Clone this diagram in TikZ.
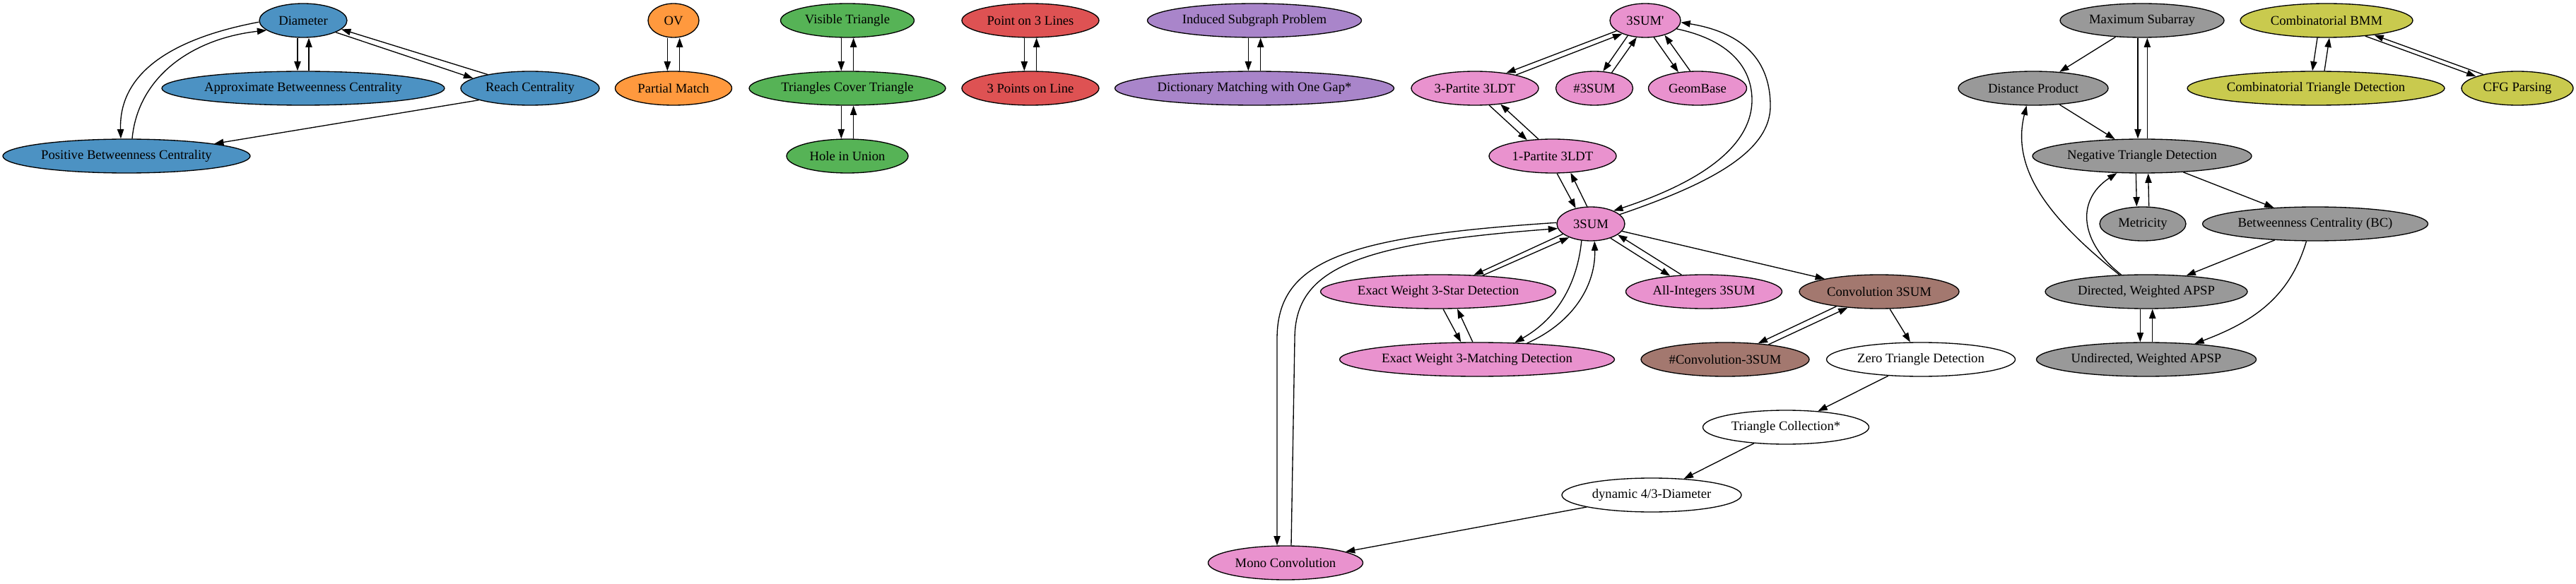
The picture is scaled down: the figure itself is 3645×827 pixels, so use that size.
\documentclass[tikz,border=0pt]{standalone}
\usepackage{fontspec}
\setmainfont{Liberation Serif}
\newfontfamily\gvfont{Liberation Serif}
\usetikzlibrary{shapes.geometric,arrows.meta}
\definecolor{cblue}{HTML}{4C92C3}
\definecolor{corange}{HTML}{FF993E}
\definecolor{cgreen}{HTML}{56B356}
\definecolor{cred}{HTML}{DE5253}
\definecolor{cpurple}{HTML}{A985CA}
\definecolor{cbrown}{HTML}{A3786F}
\definecolor{cpink}{HTML}{E992CE}
\definecolor{cgrey}{HTML}{999999}
\definecolor{colive}{HTML}{C9CA4E}
\begin{document}
\begin{tikzpicture}[x=0.75pt,y=-0.75pt,
  nd/.style={ellipse,draw,line width=1pt,inner sep=0pt,minimum height=36pt,font=\gvfont\fontsize{14}{17}\selectfont},
  w/.style={minimum width=#1*0.75pt},
  e/.style={-{Triangle[length=10pt,width=7pt]},line width=1pt}]
\useasboundingbox (0,0) rectangle (3645,827);
% nodes
\node[nd,fill=cblue,w=124] (diam) at (429,29) {Diameter};
\node[nd,fill=cblue,w=400] (abc) at (429,125) {Approximate Betweenness Centrality};
\node[nd,fill=cblue,w=196] (reach) at (750,125) {Reach Centrality};
\node[nd,fill=cblue,w=350] (pbc) at (179,221) {Positive Betweenness Centrality};
\node[nd,fill=corange,w=72] (ov) at (953,29) {OV};
\node[nd,fill=corange,w=165] (pm) at (953,125) {Partial Match};
\node[nd,fill=cgreen,w=189] (vt) at (1199,29) {Visible Triangle};
\node[nd,fill=cgreen,w=278] (tct) at (1199,125) {Triangles Cover Triangle};
\node[nd,fill=cgreen,w=172] (hu) at (1199,221) {Hole in Union};
\node[nd,fill=cred,w=194] (p3l) at (1458,29) {Point on 3 Lines};
\node[nd,fill=cred,w=194] (tpl) at (1458,125) {3 Points on Line};
\node[nd,fill=cpurple,w=303] (isp) at (1775,29) {Induced Subgraph Problem};
\node[nd,fill=cpurple,w=395] (dm) at (1775,125) {Dictionary Matching with One Gap*};
\node[nd,fill=cpink,w=100] (tsp) at (2328,29) {3SUM'};
\node[nd,fill=cpink,w=180] (p3) at (2087,125) {3-Partite 3LDT};
\node[nd,fill=cpink,w=109] (nts) at (2256,125) {\#3SUM};
\node[nd,fill=cpink,w=139] (gb) at (2402,125) {GeomBase};
\node[nd,fill=cpink,w=180] (p1) at (2197,221) {1-Partite 3LDT};
\node[nd,fill=cpink,w=96] (ts) at (2251,317) {3SUM};
\node[nd,fill=cpink,w=333] (star) at (2035,413) {Exact Weight 3-Star Detection};
\node[nd,fill=cpink,w=221] (ai) at (2411,413) {All-Integers 3SUM};
\node[nd,fill=cbrown,w=226] (conv) at (2659,413) {Convolution 3SUM};
\node[nd,fill=cpink,w=389] (match) at (2090,509) {Exact Weight 3-Matching Detection};
\node[nd,fill=cbrown,w=238] (nconv) at (2441,509) {\#Convolution-3SUM};
\node[nd,fill=white,w=267] (zero) at (2718,509) {Zero Triangle Detection};
\node[nd,fill=white,w=235] (tc) at (2527,605) {Triangle Collection*};
\node[nd,fill=white,w=254] (dyn) at (2337,701) {dynamic 4/3-Diameter};
\node[nd,fill=cpink,w=219] (mono) at (1819,797) {Mono Convolution};
\node[nd,fill=cgrey,w=232] (ms) at (3031,29) {Maximum Subarray};
\node[nd,fill=cgrey,w=212] (dp) at (2877,125) {Distance Product};
\node[nd,fill=cgrey,w=310] (nt) at (3031,221) {Negative Triangle Detection};
\node[nd,fill=cgrey,w=122] (met) at (3032,317) {Metricity};
\node[nd,fill=cgrey,w=319] (bc) at (3276,317) {Betweenness Centrality (BC)};
\node[nd,fill=cgrey,w=286] (dir) at (3037,413) {Directed, Weighted APSP};
\node[nd,fill=cgrey,w=311] (und) at (3037,509) {Undirected, Weighted APSP};
\node[nd,fill=colive,w=244] (bmm) at (3292,29) {Combinatorial BMM};
\node[nd,fill=colive,w=364] (ctd) at (3277,125) {Combinatorial Triangle Detection};
\node[nd,fill=colive,w=158] (cfg) at (3562,125) {CFG Parsing};
% blue
\draw[e] ([xshift=-6pt]diam.south) -- ([xshift=-6pt]abc.north);
\draw[e] ([xshift=6pt]abc.north) -- ([xshift=6pt]diam.south);
\draw[e] (diam.-20) -- (reach.170);
\draw[e] (reach.162) -- (diam.-13);
\draw[e] (diam.182) .. controls (240,55) and (168,105) .. ([xshift=-6pt]pbc.north);
\draw[e] ([xshift=6pt]pbc.north) .. controls (195,110) and (270,55) .. (diam.195);
\draw[e] (reach.193) -- (pbc.8);
% simple pairs
\foreach \a/\b in {ov/pm,vt/tct,tct/hu,p3l/tpl,isp/dm,nt/met,dir/und}{
  \draw[e] ([xshift=-6.5pt]\a.south) -- ([xshift=-6.5pt]\b.north);
  \draw[e] ([xshift=6.5pt]\b.north) -- ([xshift=6.5pt]\a.south);
}
% pink
\draw[e] (tsp.200) -- (p3.26);
\draw[e] (p3.18) -- (tsp.210);
\draw[e] (tsp.221) -- (nts.63);
\draw[e] (nts.42) -- (tsp.243);
\draw[e] (tsp.-63) -- (gb.140);
\draw[e] (gb.113) -- (tsp.-37);
\draw[e] (tsp.-15) .. controls (2440,55) and (2478,90) .. (2479,140) .. controls (2480,210) and (2400,260) .. (ts.30);
\draw[e] (ts.18) .. controls (2420,260) and (2505,215) .. (2505,150) .. controls (2505,80) and (2460,45) .. (tsp.-3);
\draw[e] (p3.-50) -- (p1.148);
\draw[e] (p1.130) -- (p3.-32);
\draw[e] (p1.-76) -- (ts.134);
\draw[e] (ts.102) -- (p1.-43);
\draw[e] (ts.200) -- (star.25);
\draw[e] (star.20) -- (ts.212);
\draw[e] (ts.-119) .. controls (2232,400) and (2205,450) .. (match.24);
\draw[e] (match.18) .. controls (2230,455) and (2258,400) .. (ts.-78);
\draw[e] (star.-74) -- (match.133);
\draw[e] (match.104) -- (star.-42);
\draw[e] (ts.-36) -- (ai.155);
\draw[e] (ai.143) -- (ts.-22);
\draw[e] (ts) -- (conv);
\draw[e] (ts.178) .. controls (1900,335) and (1807,370) .. (1807,480) -- ([xshift=-9pt]mono.north);
\draw[e] ([xshift=6pt]mono.north) -- (1832,480) .. controls (1832,380) and (1920,345) .. (ts.188);
\draw[e] (conv.199) -- (nconv.26);
\draw[e] (nconv.19) -- (conv.207);
\draw[e] (conv) -- (zero);
\draw[e] (zero) -- (tc);
\draw[e] (tc) -- (dyn);
\draw[e] (dyn) -- (mono);
% grey
\draw[e] (ms) -- (dp);
\draw[e] (dp) -- (nt);
\draw[e] ([xshift=-4.5pt]ms.south) -- ([xshift=-4.5pt]nt.north);
\draw[e] ([xshift=5.5pt]nt.north) -- ([xshift=5.5pt]ms.south);
\draw[e] (nt) -- (bc);
\draw[e] (bc) -- (dir);
\draw[e] (bc.243) .. controls (3240,420) and (3190,455) .. (und.18);
\draw[e] (dir.148) .. controls (2900,310) and (2845,240) .. (dp.-111);
\draw[e] (dir.146) .. controls (2945,345) and (2935,285) .. (nt.214);
% olive
\draw[e] ([xshift=-9.75pt]bmm.south) -- ([xshift=-3.75pt]ctd.north);
\draw[e] ([xshift=9pt]ctd.north) -- ([xshift=3pt]bmm.south);
\draw[e] (bmm.-22) -- (cfg.164);
\draw[e] (cfg.158) -- (bmm.-17);
\end{tikzpicture}
\end{document}
